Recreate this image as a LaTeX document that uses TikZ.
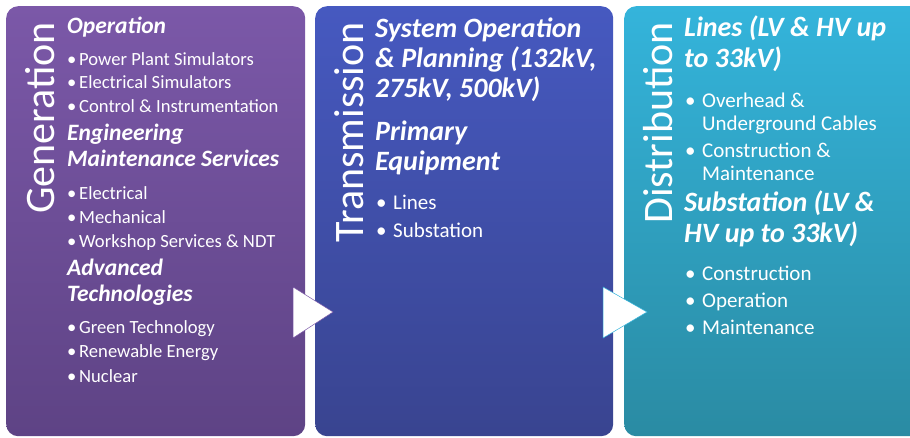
\documentclass[tikz,border=0pt]{standalone}
\usepackage{fontspec}
\setmainfont{Carlito}
\usepackage{tikz}
\usetikzlibrary{positioning}

\definecolor{gentop}{HTML}{7B58A8}
\definecolor{genbot}{HTML}{5E4385}
\definecolor{tratop}{HTML}{4659C0}
\definecolor{trabot}{HTML}{394490}
\definecolor{distop}{HTML}{34B4DB}
\definecolor{disbot}{HTML}{2A8BA3}

\newcommand{\bul}[1][17pt]{\makebox[#1][l]{\textbullet}}

\begin{document}
\begin{tikzpicture}[
    x=1pt, y=-1pt,
    panel/.style={rectangle, rounded corners=12pt, anchor=north west, minimum width=298pt, minimum height=430pt, inner sep=0pt},
    title/.style={rotate=90, anchor=base east, inner sep=0pt, text=white, font=\fontsize{42}{42}\selectfont},
    hd/.style 2 args={anchor=base west, inner sep=0pt, align=left, text=white, font=\bfseries\itshape\fontsize{#1}{#2}\selectfont},
    items/.style 2 args={anchor=base west, inner sep=0pt, align=left, text=white, font=\fontsize{#1}{#2}\selectfont},
    tri/.style={fill=white, line width=0.5pt}
]
    \useasboundingbox (0,0) rectangle (910,437);

    % Panels
    \node[panel, top color=gentop, bottom color=genbot, minimum width=299pt] (gen) at (6,6) {};
    \node[panel, top color=tratop, bottom color=trabot] (tra) at (315,6) {};
    \node[panel, top color=distop, bottom color=disbot] (dis) at (624,6) {};

    % Titles
    \node[title] (gentitle) at (54,22) {Generation};
    \node[title] (tratitle) at (363,22) {Transmission};
    \node[title] (distitle) at (672,22) {Distribution};

    % Generation (base = last line)
    \node[hd={23.5}{26}] (operation) at (67,33) {Operation};
    \node[items={18.6}{23.5}] (oplist) at (67,112) {\bul[12pt]Power Plant Simulators\\\bul[12pt]Electrical Simulators\\\bul[12pt]Control \& Instrumentation};
    \node[hd={23.5}{26}] (engineering) at (67,166) {Engineering\\Maintenance Services};
    \node[items={18.6}{24}] (englist) at (67,247) {\bul[12pt]Electrical\\\bul[12pt]Mechanical\\\bul[12pt]Workshop Services \& NDT};
    \node[hd={23.5}{26}] (advanced) at (67,301) {Advanced\\Technologies};
    \node[items={18.6}{24.5}] (advlist) at (67,382) {\bul[12pt]Green Technology\\\bul[12pt]Renewable Energy\\\bul[12pt]Nuclear};

    % Transmission
    \node[hd={28}{30}] (sysop) at (375,97) {System Operation\\\& Planning (132kV,\\275kV, 500kV)};
    \node[hd={28}{30}] (primary) at (375,170) {Primary\\Equipment};
    \node[items={21}{28}] (primlist) at (376,237) {\bul Lines\\\bul Substation};

    % Distribution
    \node[hd={28}{31}] (lines) at (684,67) {Lines (LV \& HV up\\to 33kV)};
    \node[items={21}{23}] (lineslist) at (685,180) {\bul Overhead \&\\\hspace*{17pt}Underground Cables\\[4pt]\bul Construction \&\\\hspace*{17pt}Maintenance};
    \node[hd={28}{31}] (substation) at (684,242) {Substation (LV \&\\HV up to 33kV)};
    \node[items={21}{27}] (sublist) at (685,334) {\bul Construction\\\bul Operation\\\bul Maintenance};

    % Arrows
    \filldraw[tri, draw=gentop] (293,287) -- (333,312) -- (293,338) -- cycle;
    \filldraw[tri, draw=distop] (603,287) -- (647,312) -- (603,338) -- cycle;
\end{tikzpicture}
\end{document}
